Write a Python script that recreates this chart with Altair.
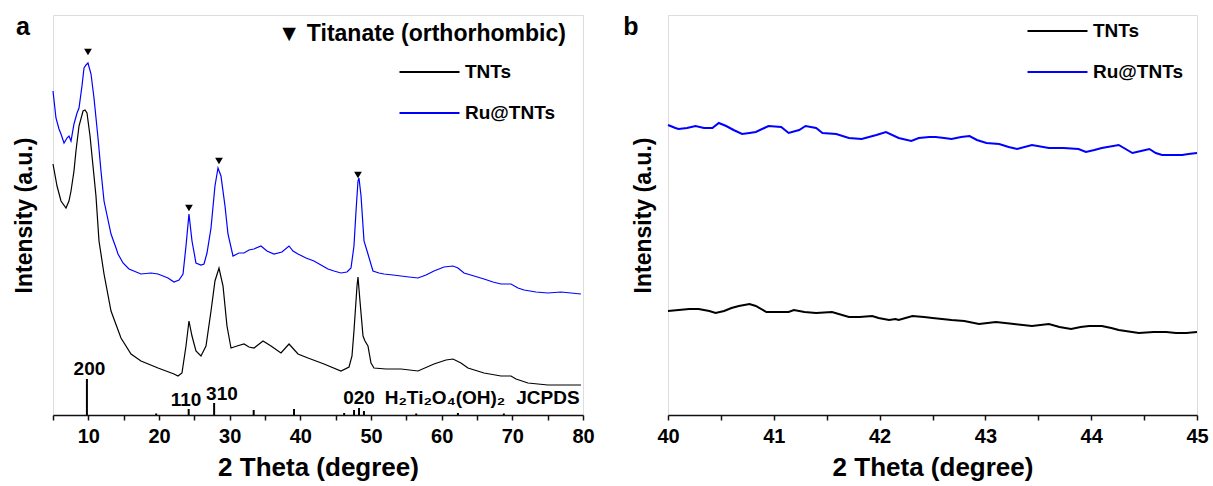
import altair as alt
import pandas as pd

FONT = "Liberation Sans"

# ---------------- Panel a data (2θ, intensity a.u.) ----------------
tnt_a_theta = [5.0, 5.57, 6.13, 6.84, 7.26, 7.55, 7.97, 8.25, 8.68, 9.25, 9.53, 9.81, 10.24, 10.66, 11.08,
               11.51, 12.22, 13.21, 14.62, 16.04, 17.45, 19.86, 22.12, 22.69, 23.25, 23.82, 24.24, 24.67,
               25.23, 25.94, 26.65, 27.36, 27.92, 28.49, 29.06, 29.62, 30.19, 31.04, 32.03, 32.73, 33.44,
               34.72, 35.85, 37.26, 38.4, 39.67, 41.08, 43.35, 45.75, 46.89, 47.31, 47.59, 48.02, 48.16,
               48.44, 48.87, 49.15, 49.57, 50.0, 50.42, 52.12, 54.24, 56.65, 58.91, 60.61, 61.6, 62.73,
               63.72, 65.99, 68.39, 69.81, 70.52, 72.21, 75.04, 77.59, 79.71]
tnt_a_int = [251, 229, 214, 207, 214, 224, 244, 264, 289, 304, 305, 302, 279, 249, 219,
             174, 141, 104, 77, 61, 54, 47, 41, 39, 42, 69, 94, 79,
             64, 59, 69, 104, 134, 147, 129, 89, 67, 69, 71, 68, 67,
             74, 69, 62, 71, 61, 57, 51, 44, 48, 59, 84, 129, 138,
             114, 79, 74, 69, 52, 47, 46, 46, 44, 51, 55, 56, 52,
             47, 42, 39, 39, 36, 32, 30, 30, 30]

ru_a_theta = [5.0, 5.42, 5.85, 6.13, 6.56, 6.98, 7.26, 7.55, 7.97, 8.4, 8.68, 9.1, 9.39, 9.67, 9.95,
              10.38, 10.8, 11.37, 11.79, 12.22, 13.21, 13.92, 14.2, 14.91, 15.75, 17.45, 18.87, 19.86,
              21.27, 22.12, 22.83, 23.4, 23.82, 24.24, 24.67, 25.23, 25.94, 26.37, 26.79, 27.36, 27.92,
              28.35, 28.77, 29.34, 29.76, 30.47, 31.32, 32.03, 32.73, 33.44, 34.43, 35.28, 36.27, 37.4,
              38.4, 38.96, 39.67, 40.8, 41.93, 42.92, 43.91, 44.76, 45.75, 46.6, 47.17, 47.59, 47.88,
              48.16, 48.3, 48.59, 49.01, 49.57, 50.28, 51.13, 51.84, 53.11, 54.24, 55.37, 56.65, 57.78,
              58.91, 60.33, 61.6, 62.31, 63.16, 64.58, 65.99, 67.26, 68.39, 69.81, 70.8, 71.65, 73.35,
              75.04, 76.88, 78.3, 79.71]
ru_a_int = [324, 297, 286, 281, 272, 277, 279, 274, 291, 302, 307, 329, 347, 350, 352,
            341, 317, 277, 244, 214, 181, 167, 161, 152, 146, 141, 142, 141,
            137, 133, 135, 141, 169, 201, 174, 152, 150, 151, 162, 187, 229,
            247, 239, 209, 181, 159, 162, 162, 165, 166, 169, 164, 161, 163,
            169, 164, 161, 157, 154, 150, 146, 144, 142, 143, 147, 169, 204,
            234, 237, 219, 174, 161, 144, 142, 141, 140, 139, 138, 137, 140,
            144, 148, 149, 147, 142, 139, 136, 133, 131, 131, 127, 125, 123,
            122, 123, 122, 121]

# orthorhombic titanate peak markers
marker_theta = [9.95, 24.24, 28.49, 48.16]
marker_int = [363, 207, 254, 240]

# JCPDS H2Ti2O4(OH)2 reference sticks
stick_theta = [9.8, 19.6, 24.2, 27.8, 33.4, 39.1, 46.2, 47.6, 48.3, 49.0, 56.4, 62.3, 68.8]
stick_height = [36, 1.5, 6, 12, 5, 6, 2, 5, 7, 4, 1.5, 2, 1.5]

# stick annotations
ann_text = ["200", "110", "310", "020", "H₂Ti₂O₄(OH)₂", "JCPDS"]
ann_theta = [10.16, 23.82, 28.91, 48.3, 60.47, 75.04]
ann_int = [46, 15, 21, 17, 17, 17]

# ---------------- Panel b data ----------------
tnt_b_theta = [40.0, 40.10, 40.20, 40.29, 40.39, 40.45, 40.53, 40.60, 40.67, 40.77, 40.83, 40.93, 41.05,
               41.14, 41.19, 41.29, 41.40, 41.55, 41.71, 41.81, 41.93, 41.99, 42.09, 42.15, 42.18, 42.31,
               42.42, 42.50, 42.68, 42.80, 42.94, 43.10, 43.27, 43.44, 43.60, 43.70, 43.81, 43.90, 43.98,
               44.10, 44.19, 44.26, 44.45, 44.59, 44.71, 44.80, 44.90, 45.0]
tnt_b_int = [104, 105, 106, 106, 104, 102, 104, 107, 109, 111, 109, 103, 103,
             103, 105, 103, 102, 103, 98, 98, 99, 97, 95, 96, 95, 99,
             98, 97, 95, 94, 91, 93, 91, 89, 91, 88, 86, 88, 89,
             89, 87, 85, 82, 83, 83, 82, 82, 83]

ru_b_theta = [40.0, 40.07, 40.10, 40.18, 40.26, 40.34, 40.42, 40.48, 40.55, 40.62, 40.70, 40.77, 40.83,
              40.91, 40.95, 41.07, 41.14, 41.24, 41.30, 41.40, 41.46, 41.59, 41.71, 41.83, 41.90, 41.97,
              42.06, 42.18, 42.30, 42.37, 42.47, 42.53, 42.61, 42.68, 42.77, 42.85, 42.92, 43.01, 43.13,
              43.22, 43.30, 43.44, 43.60, 43.74, 43.88, 43.95, 44.03, 44.10, 44.26, 44.39, 44.47, 44.55,
              44.61, 44.67, 44.78, 44.86, 44.92, 45.0]
ru_b_int = [290, 287, 286, 287, 289, 287, 287, 292, 289, 285, 281, 282, 283,
            287, 289, 288, 282, 285, 289, 287, 282, 281, 277, 276, 278, 280,
            283, 277, 274, 277, 278, 278, 277, 276, 278, 279, 275, 272, 271,
            268, 266, 270, 267, 267, 266, 263, 265, 267, 270, 262, 264, 266,
            262, 260, 260, 260, 261, 262]

series_names = ["TNTs", "Ru@TNTs"]
series_colors = ["#000000", "#0000ff"]


def curves(t1, i1, t2, i2):
    return pd.concat([
        pd.DataFrame({"theta": t1, "intensity": i1, "series": series_names[0]}),
        pd.DataFrame({"theta": t2, "intensity": i2, "series": series_names[1]}),
    ])


df_a = curves(tnt_a_theta, tnt_a_int, ru_a_theta, ru_a_int)
df_b = curves(tnt_b_theta, tnt_b_int, ru_b_theta, ru_b_int)
df_mark = pd.DataFrame({"theta": marker_theta, "intensity": marker_int})
df_stick = pd.DataFrame({"theta": stick_theta, "intensity": stick_height})
df_ann = pd.DataFrame({"theta": ann_theta, "intensity": ann_int, "label": ann_text})

color_scale = alt.Scale(domain=series_names, range=series_colors)
y_scale = alt.Scale(domain=[0, 400], nice=False, zero=False)


def x_axis(vals, expr):
    return alt.Axis(values=vals, labelExpr=expr, title="2 Theta (degree)",
                    grid=False, tickSize=5, tickWidth=1.5, tickColor="#111", domainColor="#111",
                    domainWidth=1.5, labelFontSize=20, labelFontWeight="bold", labelColor="#000",
                    labelFlush=False, labelOverlap=False, labelPadding=6, labelFont=FONT,
                    titleFontSize=26, titleFontWeight="bold", titleColor="#000", titlePadding=8,
                    titleFont=FONT)


def y_axis(pad):
    return alt.Axis(title="Intensity (a.u.)", labels=False, ticks=False, domain=False, grid=False,
                    titleFontSize=23, titleFontWeight="bold", titleColor="#000", titlePadding=pad,
                    titleFont=FONT)


def legend(lx, ly):
    return alt.Legend(orient="none", legendX=lx, legendY=ly, title=None, symbolType="stroke",
                      symbolSize=3600, symbolStrokeWidth=2.2, labelFontSize=19, labelFontWeight="bold",
                      labelFont=FONT, labelColor="#000", labelOffset=4, padding=0, clipHeight=20,
                      rowPadding=21)


# ---------- Panel a ----------
xa = alt.X("theta:Q", scale=alt.Scale(domain=[5, 80], nice=False, zero=False),
           axis=x_axis(list(range(5, 81, 5)), "datum.value % 10 == 0 ? format(datum.value, 'd') : ''"))
ya = alt.Y("intensity:Q", scale=y_scale, axis=y_axis(17))

lines_a = alt.Chart(df_a).mark_line(strokeWidth=1.2).encode(
    x=xa, y=ya,
    color=alt.Color("series:N", scale=color_scale, sort=series_names, legend=legend(345, 47)),
)
sticks = alt.Chart(df_stick).mark_rule(color="black", strokeWidth=2).encode(
    x=xa, y=ya, y2=alt.datum(0))
tri = alt.Chart(df_mark).mark_point(shape="triangle-down", filled=True, color="black",
                                    size=60, opacity=1).encode(x=xa, y=ya)
ann = alt.Chart(df_ann).mark_text(fontSize=19, fontWeight="bold", font=FONT, color="black",
                                  baseline="middle", align="center").encode(
    x=xa, y=ya, text="label:N")
title_a = alt.Chart(pd.DataFrame({"theta": [36.8], "intensity": [381],
                                  "label": ["▼ Titanate (orthorhombic)"]})).mark_text(
    fontSize=23, fontWeight="bold", font=FONT, color="black", align="left", baseline="middle").encode(
    x=xa, y=ya, text="label:N")
letter_a = alt.Chart(pd.DataFrame({"t": ["a"]})).mark_text(
    fontSize=25, fontWeight="bold", font=FONT, color="black", align="center", baseline="middle").encode(
    x=alt.value(-30), y=alt.value(12), text="t:N")

panel_a = alt.layer(lines_a, sticks, tri, ann, title_a, letter_a).properties(width=530, height=400)

# ---------- Panel b ----------
xb = alt.X("theta:Q", scale=alt.Scale(domain=[40, 45], nice=False, zero=False),
           axis=x_axis([40 + 0.5 * i for i in range(11)],
                       "datum.value % 1 == 0 ? format(datum.value, 'd') : ''"))
yb = alt.Y("intensity:Q", scale=y_scale, axis=y_axis(13))
lines_b = alt.Chart(df_b).mark_line(strokeWidth=2).encode(
    x=xb, y=yb,
    color=alt.Color("series:N", scale=color_scale, sort=series_names, legend=legend(358, 6)),
)
letter_b = alt.Chart(pd.DataFrame({"t": ["b"]})).mark_text(
    fontSize=25, fontWeight="bold", font=FONT, color="black", align="center", baseline="middle").encode(
    x=alt.value(-37), y=alt.value(12), text="t:N")
panel_b = alt.layer(lines_b, letter_b).properties(width=529, height=400)

chart = alt.hconcat(panel_a, panel_b, spacing=27).resolve_legend(color="independent").configure_view(
    stroke="#222", strokeWidth=1.5).configure(
    font=FONT, padding={"left": 12, "top": 14, "right": 0, "bottom": 2}, background="white")

chart.save("out.html", embed_options={"renderer": "svg", "actions": False})
